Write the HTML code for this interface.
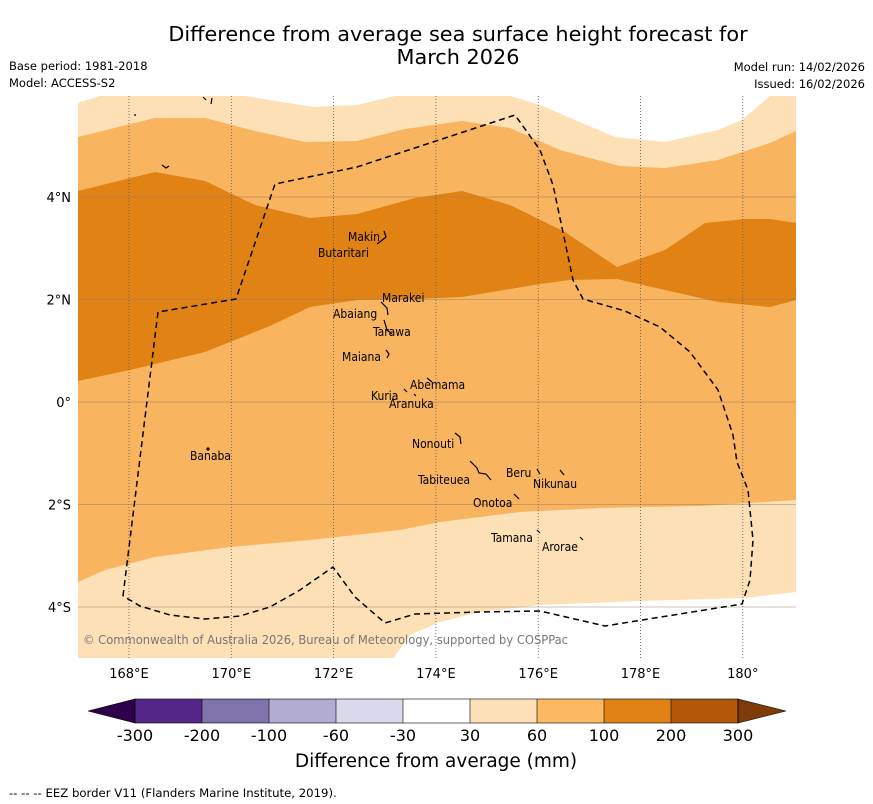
<!DOCTYPE html>
<html><head><meta charset="utf-8"><style>
body{margin:0;background:#fff;}
svg{display:block;font-family:"DejaVu Sans","Liberation Sans",sans-serif;}
.cond{font-family:"DejaVu Sans Condensed","DejaVu Sans","Liberation Sans Narrow",sans-serif;}
</style></head><body>
<svg id="root" width="873" height="804" viewBox="0 0 873 804">
<text x="458" y="41" font-size="20.8" text-anchor="middle" fill="#000">Difference from average sea surface height forecast for</text>
<text x="458" y="64" font-size="20.8" text-anchor="middle" fill="#000">March 2026</text>
<text x="9" y="70" font-size="11.5">Base period: 1981-2018</text>
<text x="9" y="87" font-size="11.5">Model: ACCESS-S2</text>
<text x="865" y="71" font-size="11.5" text-anchor="end">Model run: 14/02/2026</text>
<text x="865" y="88" font-size="11.5" text-anchor="end">Issued: 16/02/2026</text>

<g id="map">
<defs><clipPath id="mc"><rect x="78" y="96" width="718" height="562"/></clipPath></defs>
<g clip-path="url(#mc)">
<rect x="78" y="96" width="718" height="562" fill="#fde0b6"/>
<polygon fill="#fff" points="78,90 78,103 100,96 245,96 313,107 357,105 395,96 510,96 540,105 615,137 665,142 718,130 742,120 770,96 796,96 796,90"/>
<polygon fill="#f9b45f" points="78,137 155,118 205,118 255,131 305,142 357,141 405,129 462,121 510,128 560,150 620,166 665,168 718,160 770,143 796,131 796,500 700,506 600,508 520,512 440,522 400,530 310,540 230,547 155,557 105,570 78,582"/>
<polygon fill="#e08214" points="78,191 155,172 205,181 255,205 310,218 357,214 415,198 462,191 510,205 565,232 617,267 665,250 705,223 745,219 770,219 796,223 796,300 770,307 718,302 665,290 617,279 570,280 540,284 462,297 415,299 357,300 310,307 270,326 205,352 130,370 78,381"/>
<polygon fill="#fff" points="392,660 410,635 440,622 480,612 540,605 640,601 744,598 796,592 796,660"/>
</g>
<g id="grid" stroke-width="0.8"></g>
<polyline fill="none" stroke="#000" stroke-width="1.5" stroke-dasharray="6,4" points="123,596 158,312 236,299 275,184 357,167 515,115 540,150 553,185 573,280 583,299 625,311 660,327 690,352 718,390 733,435 737,462 748,490 753,540 750,580 742,604 605,626 540,611 480,612 415,614 385,623 355,597 333,567 300,590 270,607 240,616 205,619 170,615 140,606 123,596"/>
<g class="cond" font-size="12" fill="#000">
<text x="348" y="241">Makin</text><text x="318" y="257">Butaritari</text>
<text x="382" y="302">Marakei</text><text x="333" y="318">Abaiang</text>
<text x="373" y="336">Tarawa</text><text x="342" y="361">Maiana</text>
<text x="410" y="389">Abemama</text><text x="371" y="400">Kuria</text>
<text x="389" y="408">Aranuka</text><text x="412" y="448">Nonouti</text>
<text x="190" y="460">Banaba</text><text x="418" y="484">Tabiteuea</text>
<text x="506" y="477">Beru</text><text x="533" y="488">Nikunau</text>
<text x="473" y="507">Onotoa</text><text x="491" y="542">Tamana</text>
<text x="542" y="551">Arorae</text>
</g>
<g fill="none" stroke="#000" stroke-width="1.2">
<path d="M384,231 l2,6 l-5,4 l-4,3"/><path d="M381,302 l6,6 l1,7"/><path d="M384,320 l3,10 l5,4"/>
<path d="M386,350 l3,4 l-2,4"/><path d="M427,378 l5,4"/><path d="M404,389 l3,3 M414,394 l2,2"/>
<path d="M455,433 l5,4 l1,7"/><path d="M470,461 l7,7 l2,5 l7,1 l5,6"/><path d="M537,469 l3,5"/>
<path d="M560,470 l4,5"/><path d="M514,494 l5,5"/><path d="M537,530 l3,3"/><path d="M580,537 l3,3"/>
<path d="M134,115 l2,0 M203,97 l3,3 M212,98 l-1,6 M162,165 l4,3 l3,-2"/><circle cx="208" cy="449" r="1"/>
</g>
<text class="cond" x="83" y="644" font-size="12" fill="#777" textLength="485" lengthAdjust="spacingAndGlyphs">© Commonwealth of Australia 2026, Bureau of Meteorology, supported by COSPPac</text>
<g id="axislabels" font-size="13" fill="#000"></g>
</g>

<g id="cbar"></g>
<text x="436" y="767" font-size="18.5" text-anchor="middle">Difference from average (mm)</text>
<text x="9" y="797" font-size="11.7">--  --  -- EEZ border V11 (Flanders Marine Institute, 2019).</text>
</svg>
<script>
const lonTicks=[168,170,172,174,176,178,180];
const lonLabels=["168°E","170°E","172°E","174°E","176°E","178°E","180°"];
const latTicks=[4,2,0,-2,-4];
const latLabels=["4°N","2°N","0°","2°S","4°S"];
const levelLabels=["-300","-200","-100","-60","-30","30","60","100","200","300"];
const levelColors=["#542788","#8073ac","#b2abd2","#d8daeb","#ffffff","#fee0b6","#fdb863","#e08214","#b35806"];
const ns="http://www.w3.org/2000/svg";
const xLon=l=>129+(l-168)*51.15;
const yLat=a=>402-a*51.25;
const g=document.getElementById('grid'),al=document.getElementById('axislabels');
function mk(t,a,p){const e=document.createElementNS(ns,t);for(const k in a)e.setAttribute(k,a[k]);p.appendChild(e);return e;}
lonTicks.forEach((l,i)=>{
 const ln=mk('line',{x1:xLon(l),x2:xLon(l),y1:96,y2:658,stroke:'#555','stroke-dasharray':'1,2'},g);
 
 
 const t=mk('text',{x:xLon(l),y:678,'text-anchor':'middle'},al);t.textContent=lonLabels[i];
 
 
});
latTicks.forEach((a,i)=>{
 const ln=mk('line',{x1:78,x2:796,y1:yLat(a),y2:yLat(a),stroke:'#8a7a66','stroke-opacity':'0.6'},g);
 
 
 const t=mk('text',{x:71,y:yLat(a)+5,'text-anchor':'end'},al);t.textContent=latLabels[i];
 
 
});
const cb=document.getElementById('cbar');
const x0=135,x1=738,y0=699,h=24,w=(x1-x0)/levelColors.length;
let p=mk('polygon',{points:`${x0},${y0} ${x0},${y0+h} 88,${y0+h/2}`,fill:'#2d004b',stroke:'#000','stroke-width':0.6},cb);


levelColors.forEach((c,i)=>{
 const r=mk('rect',{x:x0+i*w,y:y0,width:w,height:h,fill:c},cb);
 
 
});
p=mk('polygon',{points:`${x1},${y0} ${x1},${y0+h} 786,${y0+h/2}`,fill:'#7f3b08',stroke:'#000','stroke-width':0.6},cb);


mk('rect',{x:x0,y:y0,width:x1-x0,height:h,fill:'none',stroke:'#000','stroke-width':0.6},cb);
levelLabels.forEach((s,i)=>{
 const xx=x0+i*w;
 mk('line',{x1:xx,x2:xx,y1:y0,y2:y0+h,stroke:'#000','stroke-width':0.6},cb);
 const t=mk('text',{x:xx,y:741,'font-size':16,'text-anchor':'middle'},cb);t.textContent=s;
 
 
});
</script>
</body></html>
